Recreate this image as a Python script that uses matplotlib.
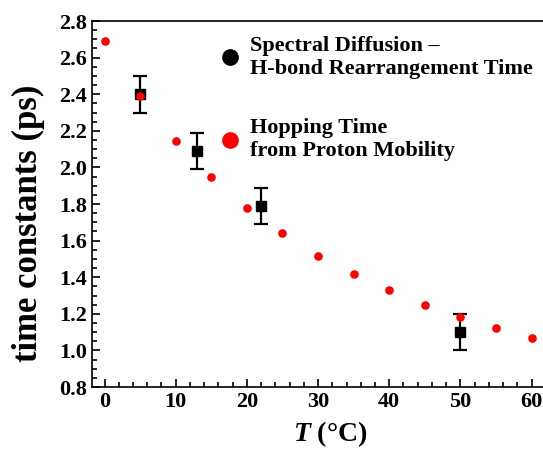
import matplotlib
matplotlib.use("Agg")
import matplotlib.pyplot as plt
from matplotlib.lines import Line2D
from matplotlib.ticker import MultipleLocator

# hopping time from proton mobility
t_hop = [0, 5, 10, 15, 20, 25, 30, 35, 40, 45, 50, 55, 60]
tau_hop = [2.69, 2.39, 2.145, 1.95, 1.78, 1.64, 1.515, 1.42, 1.33, 1.25, 1.18, 1.12, 1.07]

# spectral diffusion
t_sd = [5, 13, 22, 50]
tau_sd = [2.40, 2.09, 1.79, 1.10]
err_sd = [0.10, 0.10, 0.10, 0.10]

plt.rcParams['font.family'] = ['Liberation Serif', 'DejaVu Serif']
plt.rcParams['font.weight'] = 'bold'
plt.rcParams['mathtext.fontset'] = 'custom'
plt.rcParams['mathtext.it'] = 'Liberation Serif:italic:bold'

fig = plt.figure(figsize=(5.43, 4.51), dpi=100)
ax = fig.add_axes([0.1694, 0.1419, 0.8306, 0.8115])

ax.errorbar(t_sd, tau_sd, yerr=err_sd, fmt='s', color='black', ms=7.5,
            elinewidth=1.6, capsize=5, capthick=1.6, zorder=2)
ax.plot(t_hop, tau_hop, 'o', color='red', ms=6.2, mec='none', zorder=3)

ax.set_xlim(-1.76, 61.6)
ax.set_ylim(0.8, 2.8)
ax.xaxis.set_major_locator(MultipleLocator(10))
ax.xaxis.set_minor_locator(MultipleLocator(2))
ax.yaxis.set_major_locator(MultipleLocator(0.2))
ax.yaxis.set_minor_locator(MultipleLocator(0.05))
ax.tick_params(which='both', direction='in', width=1.2, labelsize=16)
ax.tick_params(which='major', length=6)
ax.tick_params(which='minor', length=3.5)
ax.yaxis.set_major_formatter(plt.FuncFormatter(lambda v, p: '%.1f' % v))
for s in ax.spines.values():
    s.set_linewidth(1.2)
ax.spines['right'].set_visible(False)

ax.set_ylabel('time constants (ps)', fontsize=25, fontweight='bold')
ax.yaxis.set_label_coords(-0.105, 0.448)
ax.set_xlabel(r'$T$ (°C)', fontsize=20, fontweight='bold')
ax.xaxis.set_label_coords(0.5277, -0.088)

handles = [Line2D([], [], marker='o', ls='none', color='black', ms=11),
           Line2D([], [], marker='o', ls='none', color='red', ms=11)]
labels = ['Spectral Diffusion \u2013\nH-bond Rearrangement Time',
          'Hopping Time\nfrom Proton Mobility']
leg = ax.legend(handles, labels, loc='upper left', bbox_to_anchor=(0.2816, 0.959),
                frameon=False, fontsize=16, labelspacing=1.77, handletextpad=0.4,
                handlelength=1.0, borderpad=0, borderaxespad=0)
for t in leg.get_texts():
    t.set_linespacing(1.2)

fig.savefig('out.png', dpi=100)
